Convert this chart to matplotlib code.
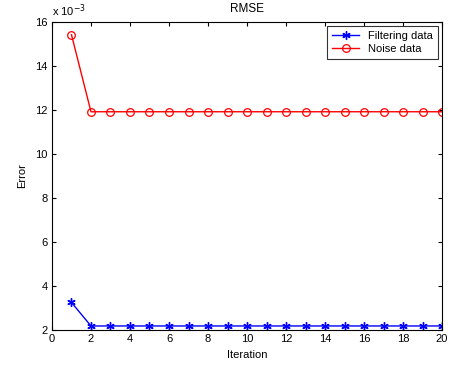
import numpy as np
import matplotlib.pyplot as plt

plt.rcParams['font.family'] = ['Liberation Sans', 'DejaVu Sans']
plt.rcParams['font.size'] = 8

iteration = list(range(1, 21))
filtering = [3.25] + [2.18] * 19
noise = [15.42] + [11.92] * 19

fig = plt.figure(figsize=(4.52, 3.67), dpi=100)
ax = fig.add_axes([0.115, 0.101, 0.863, 0.839])

ax.plot(iteration, filtering, color='blue', marker=(6, 2, 0), markersize=6, markeredgewidth=1,
        linewidth=1, label='Filtering data')
ax.plot(iteration, noise, color='red', marker='o', markerfacecolor='none', markersize=5.5,
        markeredgewidth=0.9, linewidth=1, label='Noise data')

ax.set_xlim(0, 20)
ax.set_ylim(2, 16)
ax.set_xticks(range(0, 21, 2))
ax.set_yticks(range(2, 17, 2))
ax.tick_params(direction='in', top=True, right=True, length=3, pad=3)
for s in ax.spines.values():
    s.set_linewidth(0.8)
ax.set_title('RMSE', fontsize=8.5, pad=7)
ax.set_xlabel('Iteration', labelpad=4)
ax.set_ylabel('Error', labelpad=6)
ax.text(0, 1.01, r'x 10$^{-3}$', transform=ax.transAxes, ha='left', va='bottom', fontsize=8)

leg = ax.legend(loc='upper right', fancybox=False, edgecolor='black', borderaxespad=0.4,
                handlelength=2.5, fontsize=8, labelspacing=0.3)
leg.get_frame().set_linewidth(0.8)

fig.savefig('out.png', dpi=100)
